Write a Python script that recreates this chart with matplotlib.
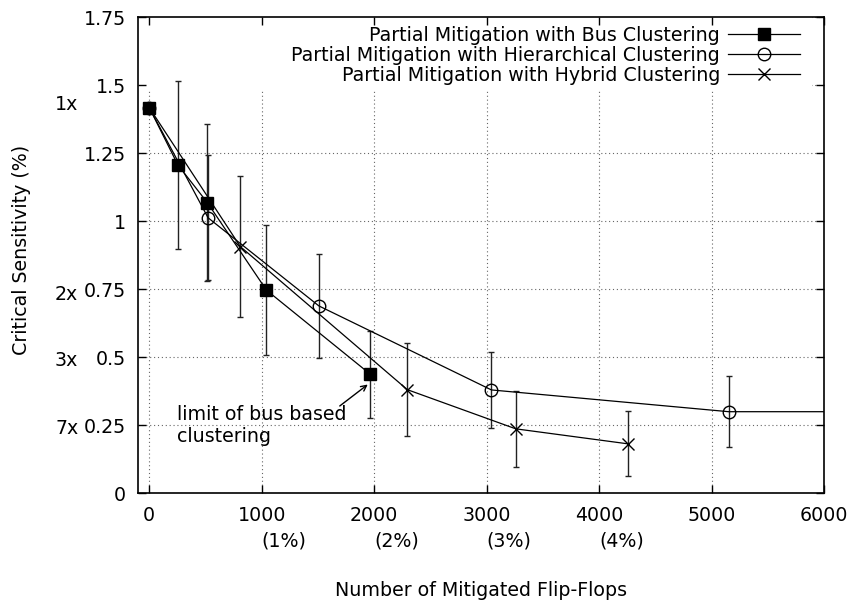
import numpy as np
import matplotlib
matplotlib.use("Agg")
import matplotlib.pyplot as plt
import matplotlib.transforms as mtransforms
from matplotlib.patches import Rectangle

# data
bus_x = [0, 255, 516, 1042, 1965]
bus_y = [1.418, 1.207, 1.069, 0.747, 0.438]
bus_err = [0.0, 0.31, 0.29, 0.24, 0.16]

hier_x = [0, 523, 1508, 3043, 5153, 6500]
hier_y = [1.418, 1.013, 0.689, 0.38, 0.30, 0.30]
hier_err = [0.0, 0.23, 0.19, 0.14, 0.13, 0.0]

hyb_x = [0, 810, 2295, 3259, 4254]
hyb_y = [1.418, 0.907, 0.381, 0.237, 0.182]
hyb_err = [0.0, 0.26, 0.17, 0.14, 0.12]

labels = ["Partial Mitigation with Bus Clustering",
          "Partial Mitigation with Hierarchical Clustering",
          "Partial Mitigation with Hybrid Clustering"]

x_ticks = [0, 1000, 2000, 3000, 4000, 5000, 6000]
pct_ticks = [1000, 2000, 3000, 4000]
pct_labels = ["(1%)", "(2%)", "(3%)", "(4%)"]
y_ticks = [0, 0.25, 0.5, 0.75, 1, 1.25, 1.5, 1.75]
y_tick_labels = ["0", "0.25", "0.5", "0.75", "1", "1.25", "1.5", "1.75"]
mult_pos = [1.43, 0.73, 0.49, 0.24]
mult_labels = ["1x", "2x", "3x", "7x"]

plt.rcParams["font.family"] = ["DejaVu Sans"]
FS = 13.7

fig = plt.figure(figsize=(8.56, 6.08), dpi=100)
ax = fig.add_axes([138 / 856, 1 - 493.3 / 608, 686 / 856, 476 / 608])

ax.set_xlim(-100, 6000)
ax.set_ylim(0, 1.75)

# dotted grid, drawn by hand so the key box can hide part of it
grid_style = dict(linestyle=(0, (1, 2.5)), color="#666666", linewidth=0.8, zorder=0.5)
for t in x_ticks:
    ax.axvline(t, **grid_style)
for t in y_ticks:
    ax.axhline(t, **grid_style)

# opaque key area (like gnuplot "key opaque")
ax.add_patch(Rectangle((0, (493.3 - 91) / 476), (812 - 138) / 686, 1,
                       transform=ax.transAxes, facecolor="white",
                       edgecolor="none", zorder=1))

ax.set_xticks(x_ticks)
ax.set_xticklabels([str(t) for t in x_ticks], fontsize=FS)
ax.set_yticks(y_ticks)
ax.set_yticklabels(y_tick_labels, fontsize=FS)
ax.tick_params(direction="in", length=6, width=1, top=True, right=True, pad=9)
for s in ax.spines.values():
    s.set_linewidth(1.2)
    s.set_zorder(6)

series = [
    (bus_x, bus_y, bus_err, dict(marker="s", ms=8, mfc="black", mec="black"), 4),
    (hier_x, hier_y, hier_err, dict(marker="o", ms=9, mfc="none", mec="black", mew=1.0), 3),
    (hyb_x, hyb_y, hyb_err, dict(marker="x", ms=9, mec="black", mew=1.0), 3),
]
handles = []
for xs, ys, es, mk, z in series:
    xs = np.array(xs)
    ys = np.array(ys)
    es = np.array(es)
    m = es > 0
    ax.errorbar(xs[m], ys[m], yerr=es[m], fmt="none", ecolor="#222222",
                elinewidth=1.0, capsize=2, capthick=1.0, zorder=2)
    ln, = ax.plot(xs, ys, color="black", lw=0.9, zorder=z, **mk)
    handles.append(ln)

leg = ax.legend(handles, labels, loc="upper right", frameon=False, markerfirst=False,
                fontsize=FS, handlelength=3.8, handletextpad=0.4, labelspacing=0.05,
                borderpad=0, borderaxespad=0)
leg.set_bbox_to_anchor((800 / 856, 1 - 26 / 608), transform=fig.transFigure)
leg.set_zorder(5)

# second row of x tick labels
trans = mtransforms.blended_transform_factory(ax.transData, ax.transAxes)
for x, lab in zip(pct_ticks, pct_labels):
    ax.text(x + 200, -0.10, lab, transform=trans, ha="center", va="center", fontsize=FS)

# multiplier labels on the left
trans_y = mtransforms.blended_transform_factory(ax.transAxes, ax.transData)
for y, lab in zip(mult_pos, mult_labels):
    ax.text(-0.087, y, lab, transform=trans_y, ha="right", va="center", fontsize=FS)

ax.text(250, 0.325, "limit of bus based\nclustering", fontsize=FS, ha="left", va="top")
ax.annotate("", xy=(1943, 0.40), xytext=(1694, 0.321),
            arrowprops=dict(arrowstyle="->", color="black", lw=1, shrinkA=0, shrinkB=0))

ax.set_xlabel("Number of Mitigated Flip-Flops", fontsize=FS)
ax.xaxis.set_label_coords(0.5, -0.185)
fig.text(22 / 856, 1 - 250 / 608, "Critical Sensitivity (%)", rotation=90,
         ha="center", va="center", fontsize=FS)

fig.savefig("out.png", dpi=100)
